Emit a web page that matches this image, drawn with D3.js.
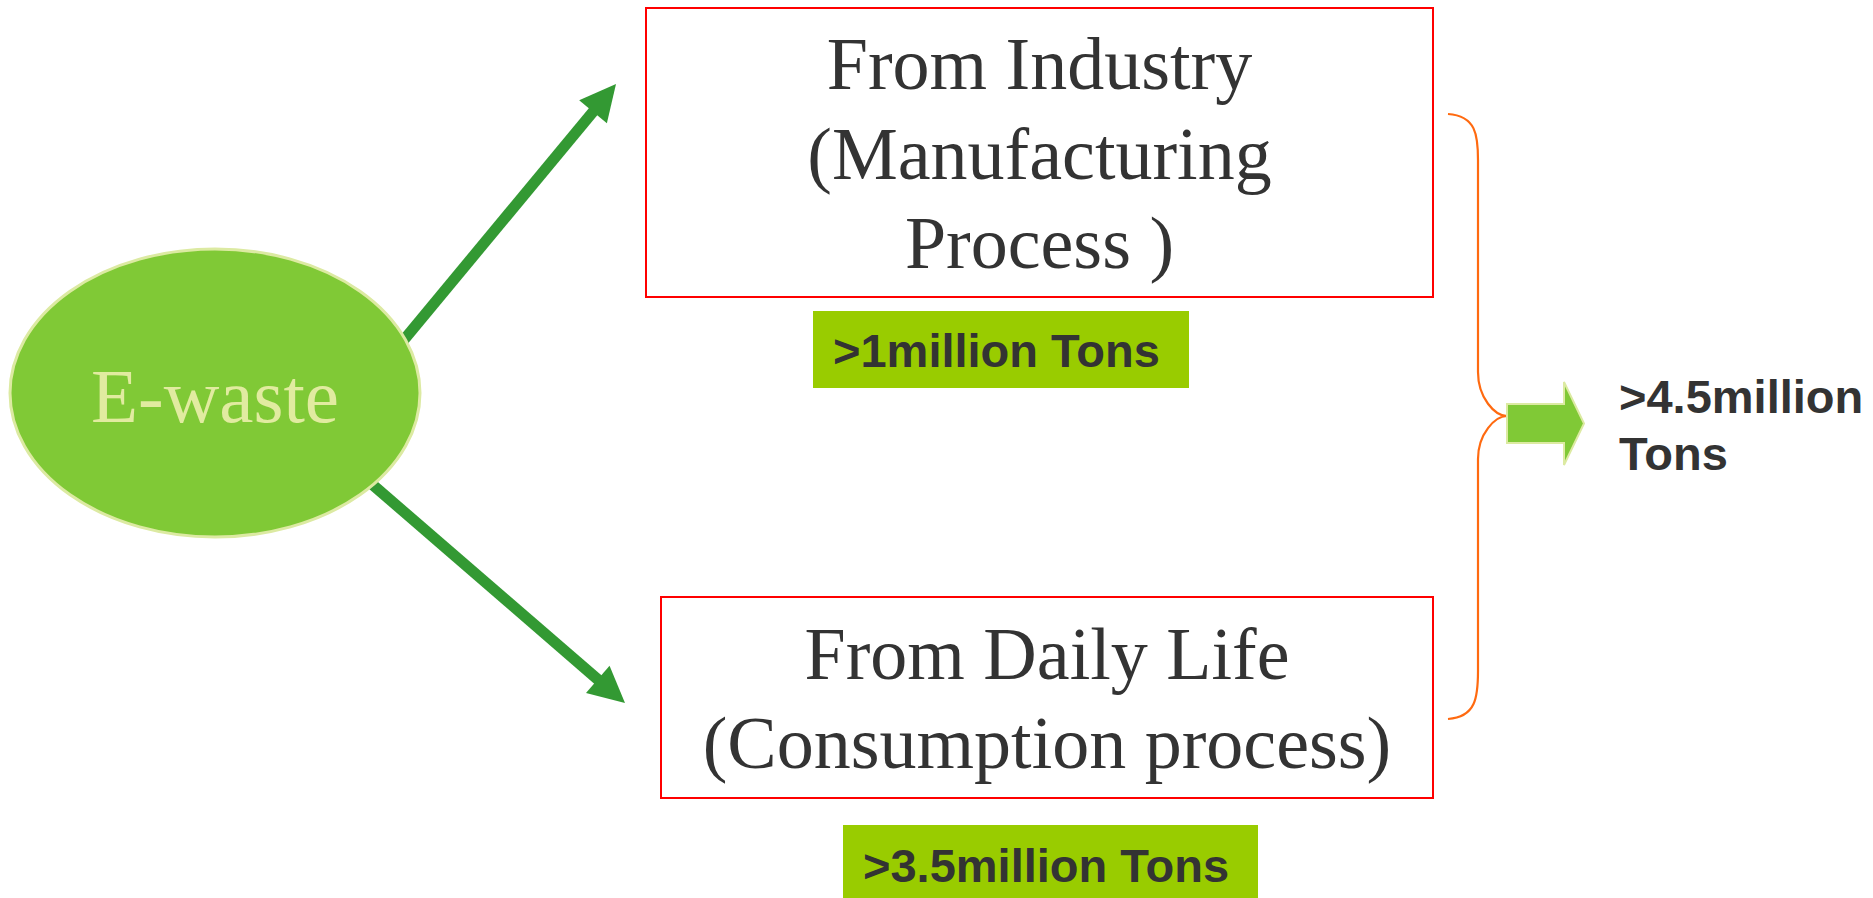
<!DOCTYPE html>
<html>
<head>
<meta charset="utf-8">
<script src="https://cdn.jsdelivr.net/npm/d3@7"></script>
<style>
  body { margin: 0; background: #fff; }
  svg { display: block; }
</style>
</head>
<body>
<div id="chart"></div>
<script>
// diagram content
var sourceName = "E-waste";
var sourceLines = [
  ["From Industry", "(Manufacturing", "Process )"],
  ["From Daily Life", "(Consumption process)"]
];
var amounts = [">1million Tons", ">3.5million Tons"];
var totalLines = [">4.5million", "Tons"];

var width = 1873, height = 898;

var svg = d3.select("#chart").append("svg")
  .attr("width", width)
  .attr("height", height);

// layout (pixels)
var ell = {cx: 215, cy: 393, rx: 205, ry: 144};
var boxes = [
  {x: 646, y: 8, w: 787, h: 289, base: 89, step: 89.5},
  {x: 661, y: 597, w: 772, h: 201, base: 679, step: 89}
];
var tags = [
  {x: 813, y: 311, w: 376, h: 77, tx: 833, ty: 367},
  {x: 843, y: 825, w: 415, h: 80, tx: 863, ty: 882}
];
var arrows = [
  {x0: 398, y0: 347, x1: 616, y1: 84},
  {x0: 366, y0: 479, x1: 625, y1: 703}
];

var arrowGreen = "#339933";

// green arrows from the ellipse
arrows.forEach(function(a) {
  var dx = a.x1 - a.x0, dy = a.y1 - a.y0;
  var len = Math.sqrt(dx * dx + dy * dy);
  var ux = dx / len, uy = dy / len;
  var headL = 36, headW = 36;
  var bx = a.x1 - ux * headL, by = a.y1 - uy * headL;
  svg.append("line")
    .attr("x1", a.x0).attr("y1", a.y0)
    .attr("x2", bx + ux * 2).attr("y2", by + uy * 2)
    .attr("stroke", arrowGreen)
    .attr("stroke-width", 11);
  svg.append("path")
    .attr("d", d3.line()([
      [a.x1, a.y1],
      [bx - uy * headW / 2, by + ux * headW / 2],
      [bx + uy * headW / 2, by - ux * headW / 2]
    ]) + "Z")
    .attr("fill", arrowGreen);
});

// ellipse
svg.append("ellipse")
  .attr("cx", ell.cx).attr("cy", ell.cy)
  .attr("rx", ell.rx).attr("ry", ell.ry)
  .attr("fill", "#80c936")
  .attr("stroke", "#dceaa2")
  .attr("stroke-width", 3);

svg.append("text")
  .attr("x", ell.cx).attr("y", 422)
  .attr("text-anchor", "middle")
  .style("font-family", "'Liberation Serif', 'Times New Roman', serif")
  .style("font-size", "77px")
  .attr("fill", "#e1eba0")
  .text(sourceName);

// boxes
var boxG = svg.selectAll(".box")
  .data(boxes)
  .enter().append("g")
  .attr("class", "box");

boxG.append("rect")
  .attr("x", function(d) { return d.x; })
  .attr("y", function(d) { return d.y; })
  .attr("width", function(d) { return d.w; })
  .attr("height", function(d) { return d.h; })
  .attr("fill", "#fff")
  .attr("stroke", "#ff0000")
  .attr("stroke-width", 2);

boxG.each(function(d, i) {
  d3.select(this).selectAll("text")
    .data(sourceLines[i])
    .enter().append("text")
    .attr("x", d.x + d.w / 2)
    .attr("y", function(t, j) { return d.base + j * d.step; })
    .attr("text-anchor", "middle")
    .style("font-family", "'Liberation Serif', 'Times New Roman', serif")
    .style("font-size", "74px")
    .attr("fill", "#333333")
    .text(function(t) { return t; });
});

// amount tags
var tagG = svg.selectAll(".tag")
  .data(tags)
  .enter().append("g")
  .attr("class", "tag");

tagG.append("rect")
  .attr("x", function(d) { return d.x; })
  .attr("y", function(d) { return d.y; })
  .attr("width", function(d) { return d.w; })
  .attr("height", function(d) { return d.h; })
  .attr("fill", "#99cc00");

tagG.append("text")
  .attr("x", function(d) { return d.tx; })
  .attr("y", function(d) { return d.ty; })
  .style("font-family", "'Liberation Sans', Arial, sans-serif")
  .style("font-size", "47px")
  .style("font-weight", "bold")
  .attr("fill", "#333333")
  .text(function(d, i) { return amounts[i]; });

// orange brace
var bx0 = 1448, bxv = 1478, bxt = 1507;
var brace = d3.path();
brace.moveTo(bx0, 114);
brace.bezierCurveTo(bxv - 2, 116, bxv, 135, bxv, 160);
brace.lineTo(bxv, 372);
brace.bezierCurveTo(bxv, 398, bxt - 12, 416, bxt, 416);
brace.bezierCurveTo(bxt - 12, 416, bxv, 434, bxv, 459);
brace.lineTo(bxv, 671);
brace.bezierCurveTo(bxv, 697, bxv - 2, 717, bx0, 719);
svg.append("path")
  .attr("d", brace.toString())
  .attr("fill", "none")
  .attr("stroke", "#ff6a10")
  .attr("stroke-width", 2.2);

// block arrow
svg.append("path")
  .attr("d", d3.line()([
    [1507, 404], [1564, 404], [1564, 382], [1584, 423.5],
    [1564, 465], [1564, 443], [1507, 443]
  ]) + "Z")
  .attr("fill", "#80c936")
  .attr("stroke", "#dceaa2")
  .attr("stroke-width", 2);

// total
svg.selectAll(".total")
  .data(totalLines)
  .enter().append("text")
  .attr("class", "total")
  .attr("x", 1619)
  .attr("y", function(d, i) { return 413 + i * 57; })
  .style("font-family", "'Liberation Sans', Arial, sans-serif")
  .style("font-size", "47px")
  .style("font-weight", "bold")
  .attr("fill", "#333333")
  .text(function(d) { return d; });
</script>
</body>
</html>
